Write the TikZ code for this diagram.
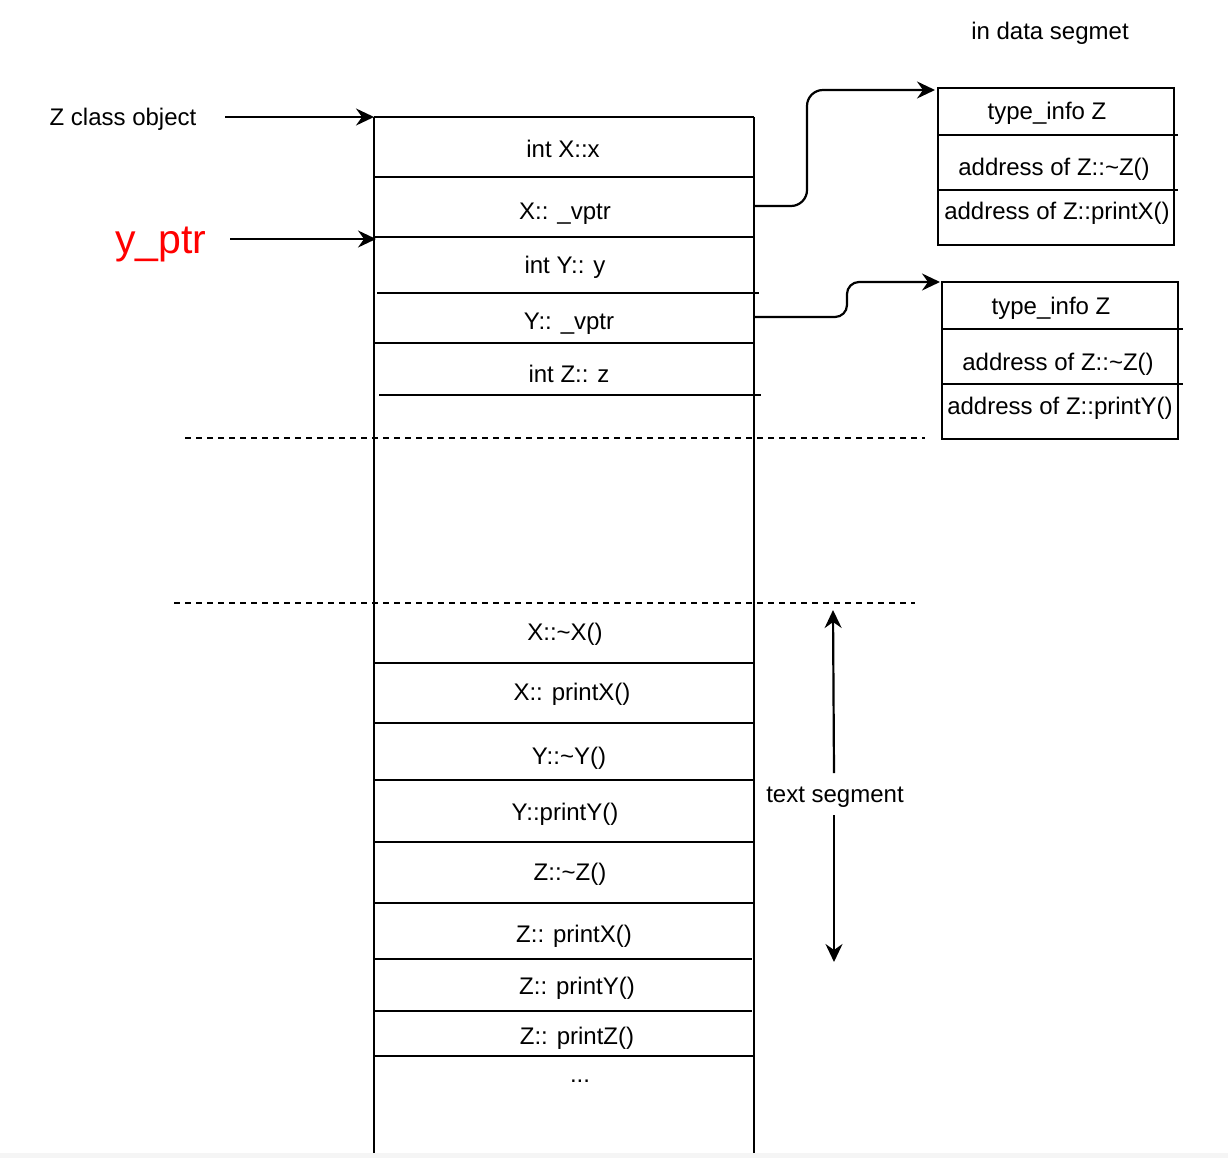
\documentclass[tikz,border=0pt]{standalone}
\usepackage{fontspec}
\setmainfont{Liberation Sans}
\usetikzlibrary{arrows.meta}
\begin{document}
\begin{tikzpicture}[x=1pt,y=-1pt,line width=2.2pt,
  lbl/.style={font=\fontsize{24}{28}\selectfont,inner sep=0pt,text height=17pt,text depth=5pt,anchor=center},
  arr/.style={-{Stealth[length=18pt,width=17pt,inset=6pt]},line width=2.2pt},
  dsh/.style={line width=1.6pt,dash pattern=on 6pt off 5pt},
  vbox/.style={draw,line width=2.2pt,minimum width=236pt,minimum height=157pt,anchor=north west,inner sep=0pt}]
\useasboundingbox (0,0) rectangle (1228,1158);
\fill[white] (0,0) rectangle (1228,1158);
\fill[black!4] (0,1153) rectangle (1228,1158);

% main column
\draw (374,117) -- (754,117);
\draw (374,117) -- (374,1153);
\draw (754,117) -- (754,1153);
\foreach \y/\a/\b in {177/374/754,237/374/754,293/377/759,343/374/754,395/379/761,
  663/374/754,723/374/754,780/374/754,842/374/754,903/374/754,959/374/752,1011/374/752,1056/374/754}
  \draw (\a,\y) -- (\b,\y);
\draw[dsh] (185,438) -- (925,438);
\draw[dsh] (174,603) -- (915,603);

\node[lbl] (c1) at (563,152) {int X::x};
\node[lbl] (c2) at (565,214) {X:: \_vptr};
\node[lbl] (c3) at (565,267) {int Y:: y};
\node[lbl] (c4) at (569,323) {Y:: \_vptr};
\node[lbl] (c5) at (569,376) {int Z:: z};
\node[lbl] (t1) at (565,634) {X::\textasciitilde X()};
\node[lbl] (t2) at (572,694) {X:: printX()};
\node[lbl] (t3) at (569,758) {Y::\textasciitilde Y()};
\node[lbl] (t4) at (565,814) {Y::printY()};
\node[lbl] (t5) at (570,874) {Z::\textasciitilde Z()};
\node[lbl] (t6) at (574,936) {Z:: printX()};
\node[lbl] (t7) at (577,988) {Z:: printY()};
\node[lbl] (t8) at (577,1038) {Z:: printZ()};
\node[lbl] (t9) at (580,1076) {...};

% pointers
\node[lbl] (zobj) at (123,120) {Z class object};
\node[font=\fontsize{41}{46}\selectfont,text=red,inner sep=0pt,text height=30pt,text depth=9pt] (yptr) at (161,243) {y\_ptr};
\coordinate (zs) at (225,117);
\coordinate (zt) at (374,117);
\coordinate (ys) at (230,239);
\coordinate (yt) at (376,239);
\draw[arr] (zs) -- (zt);
\draw[arr] (ys) -- (yt);

% vtables
\node[lbl] (ds) at (1050,34) {in data segmet};
\node[vbox] (vt1) at (937,87) {};
\draw (937,135) -- (1178,135);
\draw (937,190) -- (1178,190);
\node[lbl] (v11) at (1047,114) {type\_info Z};
\node[lbl] (v12) at (1054,170) {address of Z::\textasciitilde Z()};
\node[lbl] (v13) at (1057,214) {address of Z::printX()};

\node[vbox] (vt2) at (941,281) {};
\draw (941,329) -- (1183,329);
\draw (941,384) -- (1183,384);
\node[lbl] (v21) at (1051,308) {type\_info Z};
\node[lbl] (v22) at (1058,364) {address of Z::\textasciitilde Z()};
\node[lbl] (v23) at (1060,408) {address of Z::printY()};

\coordinate (p1s) at (754,206);
\coordinate (p1e) at (935,90);
\draw[arr,rounded corners=16pt] (p1s) -- (807,206) -- (807,90) -- (p1e);
\coordinate (p2s) at (754,317);
\coordinate (p2e) at (940,282);
\draw[arr,rounded corners=12pt] (p2s) -- (847,317) -- (847,282) -- (p2e);

% text segment
\node[lbl] (ts) at (835,796) {text segment};
\coordinate (tsu) at (834,773);
\coordinate (tsut) at (833,610);
\coordinate (tsd) at (834,815);
\coordinate (tsdt) at (834,962);
\draw[arr] (tsu) -- (tsut);
\draw[arr] (tsd) -- (tsdt);
\end{tikzpicture}
\end{document}
